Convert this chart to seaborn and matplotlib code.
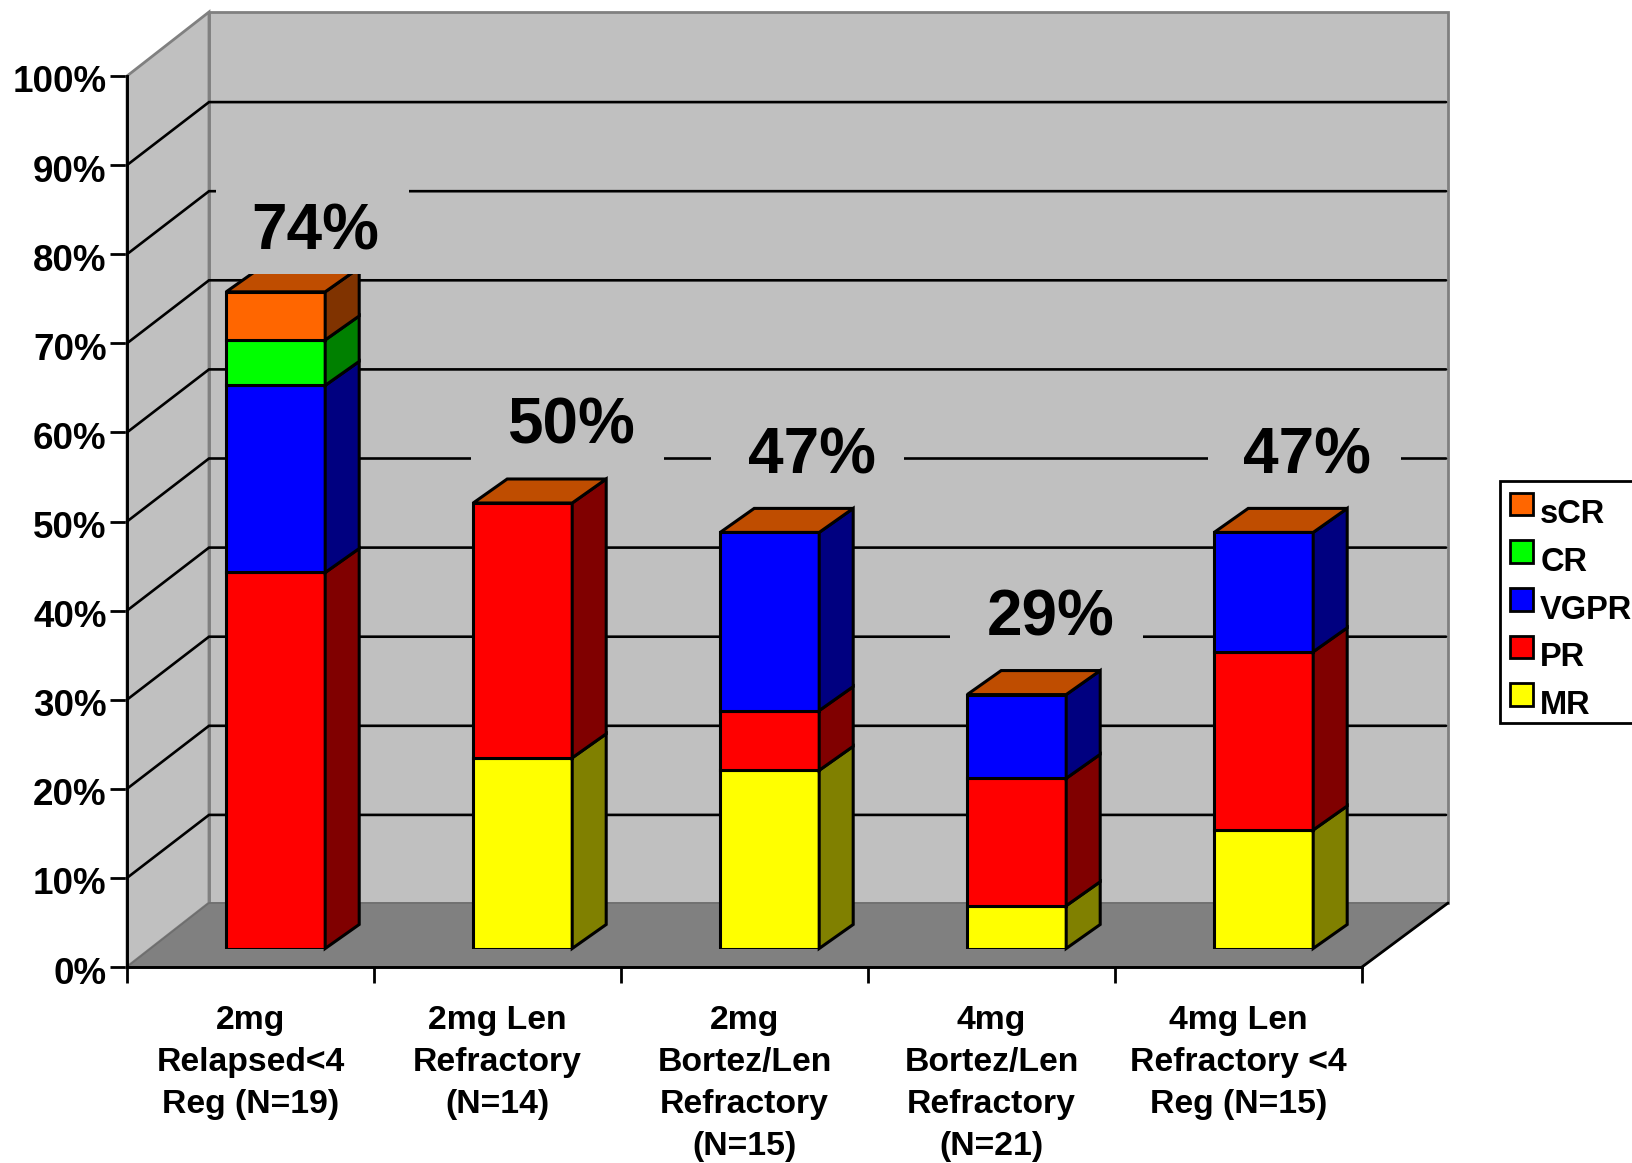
import matplotlib
matplotlib.use("Agg")
import matplotlib.pyplot as plt
import numpy as np
import pandas as pd
import seaborn as sns
from matplotlib.patches import Polygon, Rectangle
from matplotlib.transforms import Affine2D, ScaledTranslation

categories = [
    "2mg\nRelapsed<4\nReg (N=19)",
    "2mg Len\nRefractory\n(N=14)",
    "2mg\nBortez/Len\nRefractory\n(N=15)",
    "4mg\nBortez/Len\nRefractory\n(N=21)",
    "4mg Len\nRefractory <4\nReg (N=15)",
]
mr = [0.0, 21.4, 20.0, 4.8, 13.3]
pr = [42.2, 28.6, 6.7, 14.3, 20.0]
vgpr = [21.0, 0.0, 20.0, 9.4, 13.4]
cr = [5.1, 0.0, 0.0, 0.0, 0.0]
scr = [5.4, 0.0, 0.0, 0.0, 0.0]
series_names = ["MR", "PR", "VGPR", "CR", "sCR"]
series_values = [mr, pr, vgpr, cr, scr]
total_labels = ["74%", "50%", "47%", "29%", "47%"]
y_ticks = [0, 10, 20, 30, 40, 50, 60, 70, 80, 90, 100]

front_colors = ["#FFFF00", "#FF0000", "#0000FF", "#00FF00", "#FF6600"]
side_colors = ["#808000", "#800000", "#000080", "#008000", "#803300"]
top_color = "#BF4D00"
wall_color = "#C0C0C0"
floor_color = "#808080"

W, H = 1632, 1163
sns.set_theme(style="white")
plt.rcParams["font.family"] = ["Liberation Sans", "DejaVu Sans"]
plt.rcParams["font.weight"] = "bold"

fig = plt.figure(figsize=(W / 100, H / 100), dpi=100, facecolor="white")
px = Affine2D().scale(1, -1).translate(0, H)  # image-style pixel coordinates


def axes_rect(x0, x1, y_top, y_bottom):
    return [x0 / W, 1 - y_bottom / H, (x1 - x0) / W, (y_bottom - y_top) / H]


# Front plane of the box: holds the axis ticks, walls and floor
X0, X1, Y100, Y0 = 127, 1362, 76, 967
ax = fig.add_axes(axes_rect(X0, X1, Y100, Y0), zorder=1)
ax.set_facecolor("none")
ax.set_xlim(-0.5, 4.5)
ax.set_ylim(0, 100)
cat_px = (X1 - X0) / 5
val_px = (Y0 - Y100) / 100

# Depth of the box, in data units
back_dx_l = 82 / cat_px
back_dx_r = 86 / cat_px
back_dy = 64 / val_px
grid_dy = 63 / val_px
xl, xr = -0.5 + back_dx_l, 4.5 + back_dx_r

ax.add_patch(Polygon([(xl, back_dy), (xr, back_dy), (xr, 100 + back_dy), (xl, 100 + back_dy)],
                     fc=wall_color, ec="#808080", lw=2.0, clip_on=False, zorder=1))
ax.add_patch(Polygon([(-0.5, 0), (xl, back_dy), (xl, 100 + back_dy), (-0.5, 100)],
                     fc=wall_color, ec="#808080", lw=2.0, clip_on=False, zorder=1))
ax.add_patch(Polygon([(-0.5, 0), (4.5, 0), (xr, back_dy), (xl, back_dy)],
                     fc=floor_color, ec="#6E6E6E", lw=1.2, clip_on=False, zorder=2))
ax.plot([4.5, xr], [0, back_dy], color="black", lw=2.0, clip_on=False, zorder=3)

for v in y_ticks[1:-1]:
    ax.plot([-0.5, xl, xr - 0.008], [v, v + grid_dy, v + grid_dy], color="black", lw=1.9,
            clip_on=False, zorder=2, solid_joinstyle="miter")

for side in ("top", "right"):
    ax.spines[side].set_visible(False)
for side in ("left", "bottom"):
    ax.spines[side].set_linewidth(2.1)
    ax.spines[side].set_color("black")
    ax.spines[side].set_zorder(4)

ax.set_yticks(y_ticks)
ax.set_yticklabels([f"{v}%" for v in y_ticks], fontsize=26.5, fontweight="bold", color="black")
ax.tick_params(axis="y", left=True, length=12.2, width=2.0, pad=2.4, color="black")
nudge_down = ScaledTranslation(0, -3 / 100, fig.dpi_scale_trans)
for label in ax.get_yticklabels():
    label.set_transform(label.get_transform() + nudge_down)
ax.set_xticks(np.arange(-0.5, 5, 1))
ax.set_xticklabels([])
ax.tick_params(axis="x", which="major", bottom=True, length=11.5, width=2.0, color="black")
ax.set_xticks(range(5), minor=True)
ax.set_xticklabels(categories, minor=True, fontsize=24.3, fontweight="bold", linespacing=1.45,
                   color="black")
ax.tick_params(axis="x", which="minor", bottom=False, length=0, pad=27.5)

# Bars stand on the floor, set back from the front plane
SHIFT_X, SHIFT_Y = 25.2, 18.5
bar_ax = fig.add_axes(axes_rect(X0 + SHIFT_X, X1 + SHIFT_X, Y100 - SHIFT_Y, Y0 - SHIFT_Y), zorder=2)
bar_ax.patch.set_alpha(0)

bar_width = 99 / cat_px
bar_dx = 34 / cat_px
bar_dy = 24 / val_px
edge = dict(edgecolor="black", linewidth=2.2)

bottoms = np.zeros(5)
for name, values, fc, sc in zip(series_names, series_values, front_colors, side_colors):
    values = np.array(values)
    frame = pd.DataFrame({"group": categories, "value": values, "base": bottoms})
    frame = frame[frame["value"] > 0]
    sns.barplot(data=frame, x="group", y="value", order=categories, bottom=frame["base"].to_numpy(),
                color=fc, saturation=1, width=bar_width, ax=bar_ax, zorder=3, **edge)
    for i in frame.index:
        right = i + bar_width / 2
        lo, hi = bottoms[i], bottoms[i] + values[i]
        bar_ax.add_patch(Polygon(
            [(right, lo), (right + bar_dx, lo + bar_dy), (right + bar_dx, hi + bar_dy), (right, hi)],
            fc=sc, ec="black", lw=2.2, clip_on=False, zorder=3, joinstyle="miter"))
    bottoms = bottoms + values

for i, total in enumerate(bottoms):
    left, right = i - bar_width / 2, i + bar_width / 2
    bar_ax.add_patch(Polygon(
        [(left, total), (right, total), (right + bar_dx, total + bar_dy), (left + bar_dx, total + bar_dy)],
        fc=top_color, ec="black", lw=2.2, clip_on=False, zorder=3, joinstyle="miter"))

bar_ax.set_xlim(-0.5, 4.5)
bar_ax.set_ylim(0, 100)
bar_ax.axis("off")

# Total labels sit on wall-coloured boxes that interrupt the gridlines
label_centers = [(315, 232), (571, 426), (812, 457), (1051, 619), (1307, 457)]
box_centers = [(312, 228), (567, 420), (807, 452), (1046, 614), (1304, 452)]
box_w, box_h = 193, 92
for text, (cx, cy), (bx, by) in zip(total_labels, label_centers, box_centers):
    bar_ax.add_patch(Rectangle((bx - box_w / 2, by - box_h / 2), box_w, box_h,
                               fc=wall_color, ec="none", transform=px, clip_on=False, zorder=5))
    bar_ax.text(cx, cy, text, transform=px, ha="center", va="center", fontsize=46,
                fontweight="bold", color="black", zorder=6, clip_on=False)

# Legend, listed top-down; its box runs past the right edge of the figure
handles = [Rectangle((0, 0), 1, 1, fc=c, ec="black", lw=2.0) for c in front_colors[::-1]]
legend = fig.legend(handles, series_names[::-1], loc="upper left",
                    bbox_to_anchor=(1500 / W, 1 - 481 / H), bbox_transform=fig.transFigure,
                    fontsize=23.5, frameon=True, fancybox=False, edgecolor="black", framealpha=1,
                    borderpad=0.32, handlelength=0.69, handleheight=0.69, handletextpad=0.22,
                    labelspacing=0.51, borderaxespad=0)
legend.get_frame().set_linewidth(2.0)
for t in legend.get_texts():
    t.set_fontweight("bold")
    t.set_color("black")
    t.set_position((0, -8))

fig.savefig("out.png", dpi=100, facecolor="white")
